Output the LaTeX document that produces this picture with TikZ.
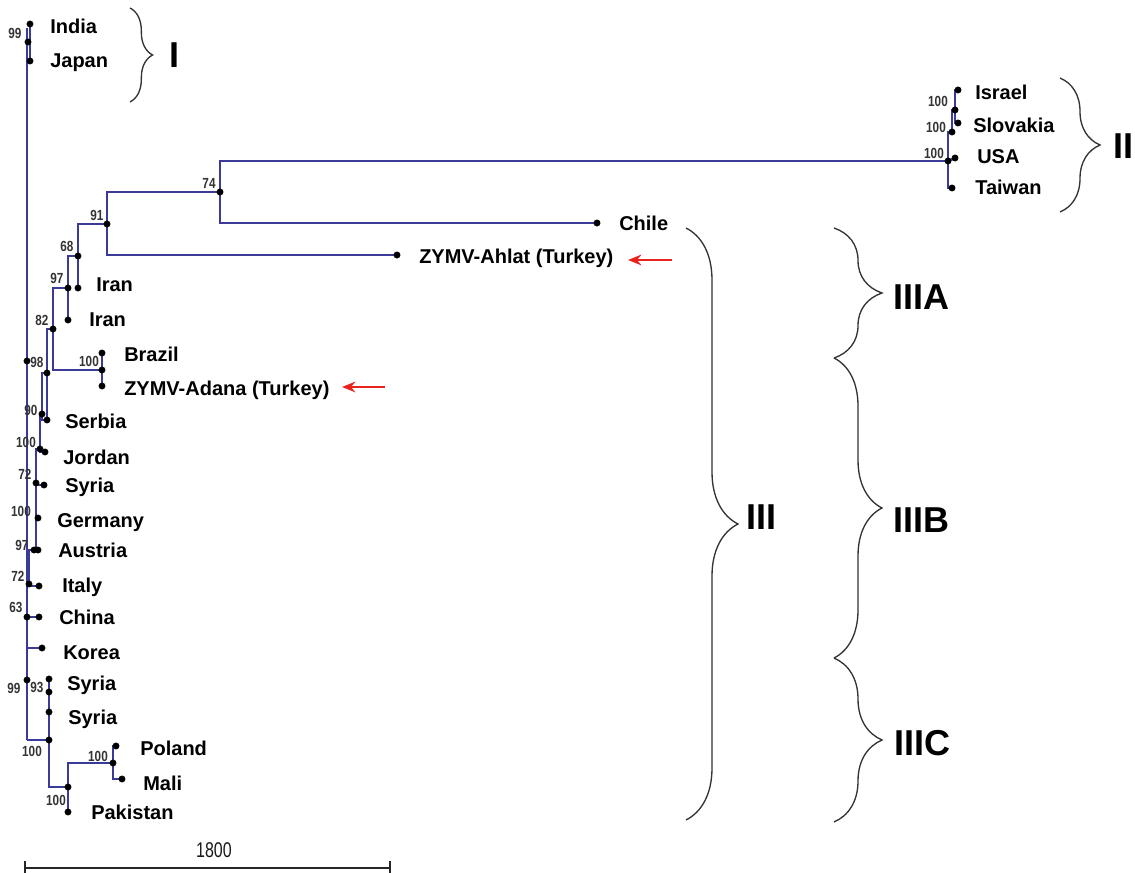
\documentclass[tikz,border=0pt]{standalone}
\usepackage{fontspec}
\setmainfont{Liberation Sans}
\usepackage{graphicx}
\usetikzlibrary{decorations.pathreplacing,arrows.meta}
\definecolor{treeblue}{HTML}{3A3A98}
\definecolor{bracegray}{HTML}{333333}
\definecolor{arrowred}{HTML}{E8231E}
\newcommand{\bsv}[1]{\scalebox{0.8}[1]{#1}}
\begin{document}
\begin{tikzpicture}[x=0.75pt,y=-0.75pt,
  br/.style={draw=treeblue,line width=1.8pt},
  dot/.style={circle,fill=black,inner sep=0pt,minimum size=5.2pt},
  leaf/.style={anchor=base west,font=\fontsize{15}{17}\selectfont\bfseries,inner sep=0pt},
  boot/.style={font=\fontsize{11}{12}\selectfont\bfseries,text=black!80,inner sep=0pt},
  clade/.style={font=\fontsize{27}{30}\selectfont\bfseries,inner sep=0pt},
  cbrace/.style={draw=bracegray,line width=1pt,decorate,decoration={brace,amplitude=#1}},
  redarrow/.style={draw=arrowred,line width=2.1pt,-{Stealth[length=10pt,width=8pt]}},
  scalebar/.style={draw=black!85,line width=1.4pt}]
\useasboundingbox (0,0) rectangle (1135,873);

% ---------- coordinates ----------
\coordinate (sTop) at (27,28);
\coordinate (sBot) at (27,740);
% clade I
\coordinate (cIndia) at (30,24);
\coordinate (cI) at (28,42);
\coordinate (cJapan) at (30,61);
% upper clade
\coordinate (c91) at (107,224);
\coordinate (c74) at (220,192);
\coordinate (cII) at (948,161);
\coordinate (cChile) at (597,223);
\coordinate (cAhlat) at (397,255);
\coordinate (c68) at (78,256);
\coordinate (cIran1) at (78,288);
\coordinate (c97) at (68,288);
\coordinate (cIran2) at (68,320);
\coordinate (c82) at (53,329);
\coordinate (cB) at (102,370);
\coordinate (cBrazil) at (102,353);
\coordinate (cAdana) at (102,386);
\coordinate (c98) at (47,373);
\coordinate (sp98) at (27,361);
% ladder
\coordinate (c90) at (42,414);
\coordinate (cSerbia) at (47,420);
\coordinate (c100b) at (40,449);
\coordinate (cJordan) at (45,452);
\coordinate (c72a) at (36,483);
\coordinate (cSyriaA) at (44,485);
\coordinate (c100c) at (36,517);
\coordinate (cGermany) at (38,518);
\coordinate (c97b) at (34,550);
\coordinate (cAustria) at (38,550);
\coordinate (c72b) at (29,584);
\coordinate (cItaly) at (39,586);
\coordinate (c63) at (27,617);
\coordinate (cChina) at (39,617);
\coordinate (cKorea0) at (27,648);
\coordinate (cKorea) at (42,648);
\coordinate (c99b) at (27,680);
\coordinate (cSyria1) at (49,679);
\coordinate (c93) at (49,692);
\coordinate (cSyria2) at (49,712);
\coordinate (c100d) at (49,740);
\coordinate (c100e) at (68,787);
\coordinate (c100f) at (113,763);
\coordinate (cPoland) at (116,746);
\coordinate (cMali) at (122,779);
\coordinate (cPakistan) at (68,812);
% clade II
\coordinate (cTaiwan) at (952,188);
\coordinate (cUSA) at (955,158);
\coordinate (cS) at (952,132);
\coordinate (cI2) at (955,110);
\coordinate (cIsrael) at (958,90);
\coordinate (cSlovakia) at (958,123);

% ---------- branches ----------
\draw[br] (sTop) -- (sBot);
\draw[br] (cIndia) -- (cJapan);
\draw[br] (c74) -| (c91);
\draw[br] (c74) |- (cII);
\draw[br] (c74) |- (cChile);
\draw[br] (c91) |- (cAhlat);
\draw[br] (c68) |- (c91);
\draw[br] (c68) -- (cIran1);
\draw[br] (c97) |- (c68);
\draw[br] (c97) -- (cIran2);
\draw[br] (c82) |- (c97);
\draw[br] (c82) |- (cB);
\draw[br] (cBrazil) -- (cAdana);
\draw[br] (c98) |- (c82);
\draw[br] (c98) -- (cSerbia);
\draw[br] (c90) |- (c98);
\draw[br] (c90) |- (cSerbia);
\draw[br] (c100b) |- (c90);
\draw[br] (c100b) |- (cJordan);
\draw[br] (c72a) |- (c100b);
\draw[br] (c72a) |- (cSyriaA);
\draw[br] (c72a) -- (c100c);
\draw[br] (c100c) -- (cGermany);
\draw[br] (c100c) |- (c97b);
\draw[br] (c97b) -- (cAustria);
\draw[br] (c72b) |- (c97b);
\draw[br] (c72b) |- (cItaly);
\draw[br] (c63) |- (c72b);
\draw[br] (c63) -- (cChina);
\draw[br] (cKorea0) -- (cKorea);
\draw[br] (cSyria1) -- (c100d);
\draw[br] (sBot) -- (c100d);
\draw[br] (c100d) |- (c100e);
\draw[br] (c100e) |- (c100f);
\draw[br] (c100f) |- (cPoland);
\draw[br] (c100f) |- (cMali);
\draw[br] (c100e) -- (cPakistan);
\draw[br] (cII) |- (cTaiwan);
\draw[br] (cII) -- (cUSA);
\draw[br] (cII) |- (cS);
\draw[br] (cS) |- (cI2);
\draw[br] (cI2) |- (cIsrael);
\draw[br] (cI2) |- (cSlovakia);

% ---------- dots ----------
\foreach \c in {cIndia,cI,cJapan,c91,c74,cChile,cAhlat,c68,cIran1,c97,cIran2,c82,cB,cBrazil,cAdana,sp98,c98,c90,cSerbia,c100b,cJordan,c72a,cSyriaA,cGermany,c97b,cAustria,c72b,cItaly,c63,cChina,cKorea,c99b,cSyria1,c93,cSyria2,c100d,c100e,c100f,cPoland,cMali,cPakistan,cII,cTaiwan,cUSA,cS,cI2,cIsrael,cSlovakia}
  \node[dot] (d-\c) at (\c) {};

% ---------- bootstrap values ----------
\node[boot] (b1) at (15,33) {\bsv{99}};
\node[boot] (b2) at (209,183) {\bsv{74}};
\node[boot] (b3) at (97,215) {\bsv{91}};
\node[boot] (b4) at (67,246) {\bsv{68}};
\node[boot] (b5) at (57,278) {\bsv{97}};
\node[boot] (b6) at (42,320) {\bsv{82}};
\node[boot] (b7) at (89,361) {\bsv{100}};
\node[boot] (b8) at (37,362) {\bsv{98}};
\node[boot] (b9) at (31,410) {\bsv{90}};
\node[boot] (b10) at (26,442) {\bsv{100}};
\node[boot] (b11) at (25,474) {\bsv{72}};
\node[boot] (b12) at (21,511) {\bsv{100}};
\node[boot] (b13) at (22,545) {\bsv{97}};
\node[boot] (b14) at (18,576) {\bsv{72}};
\node[boot] (b15) at (16,607) {\bsv{63}};
\node[boot] (b16) at (14,688) {\bsv{99}};
\node[boot] (b17) at (37,687) {\bsv{93}};
\node[boot] (b18) at (32,751) {\bsv{100}};
\node[boot] (b19) at (56,800) {\bsv{100}};
\node[boot] (b20) at (98,756) {\bsv{100}};
\node[boot] (b21) at (938,101) {\bsv{100}};
\node[boot] (b22) at (936,127) {\bsv{100}};
\node[boot] (b23) at (934,153) {\bsv{100}};

% ---------- leaf labels ----------
\node[leaf] (tIndia) at (50,34) {India};
\node[leaf] (tJapan) at (50,68) {Japan};
\node[leaf] (tChile) at (619,231) {Chile};
\node[leaf] (tAhlat) at (419,264) {ZYMV-Ahlat (Turkey)};
\node[leaf] (tIran1) at (96,292) {Iran};
\node[leaf] (tIran2) at (89,327) {Iran};
\node[leaf] (tBrazil) at (124,362) {Brazil};
\node[leaf] (tAdana) at (124,396) {ZYMV-Adana (Turkey)};
\node[leaf] (tSerbia) at (65,428) {Serbia};
\node[leaf] (tJordan) at (63,464) {Jordan};
\node[leaf] (tSyriaA) at (65,492) {Syria};
\node[leaf] (tGermany) at (57,527) {Germany};
\node[leaf] (tAustria) at (58,557) {Austria};
\node[leaf] (tItaly) at (62,592) {Italy};
\node[leaf] (tChina) at (59,624) {China};
\node[leaf] (tKorea) at (63,659) {Korea};
\node[leaf] (tSyria1) at (67,690) {Syria};
\node[leaf] (tSyria2) at (68,724) {Syria};
\node[leaf] (tPoland) at (140,755) {Poland};
\node[leaf] (tMali) at (143,790) {Mali};
\node[leaf] (tPakistan) at (91,819) {Pakistan};
\node[leaf] (tIsrael) at (975,100) {Israel};
\node[leaf] (tSlovakia) at (973,133) {Slovakia};
\node[leaf] (tUSA) at (977,164) {USA};
\node[leaf] (tTaiwan) at (975,195) {Taiwan};

% ---------- red arrows ----------
\coordinate (aAhlatT) at (672,260);
\coordinate (aAhlatH) at (628,260);
\coordinate (aAdanaT) at (385,387);
\coordinate (aAdanaH) at (342,387);
\draw[redarrow] (aAhlatT) -- (aAhlatH);
\draw[redarrow] (aAdanaT) -- (aAdanaH);

% ---------- braces and clade names ----------
\coordinate (brIa) at (130,8);   \coordinate (brIb) at (130,102);
\coordinate (brIIa) at (1060,78); \coordinate (brIIb) at (1060,212);
\coordinate (brIIIa) at (686,228); \coordinate (brIIIb) at (686,820);
\coordinate (brAa) at (834,228); \coordinate (brAb) at (834,358);
\coordinate (brBb) at (834,658);
\coordinate (brCb) at (834,822);
\draw[cbrace=17pt] (brIa) -- (brIb);
\draw[cbrace=30pt] (brIIa) -- (brIIb);
\draw[cbrace=39pt] (brIIIa) -- (brIIIb);
\draw[cbrace=36pt] (brAa) -- (brAb);
\draw[cbrace=36pt] (brAb) -- (brBb);
\draw[cbrace=36pt] (brBb) -- (brCb);
\node[clade] (kI) at (174,55) {I};
\node[clade] (kII) at (1123,146) {II};
\node[clade] (kIII) at (761,517) {III};
\node[clade] (kIIIA) at (921,297) {IIIA};
\node[clade] (kIIIB) at (921,520) {IIIB};
\node[clade] (kIIIC) at (922,743) {IIIC};

% ---------- scale bar ----------
\coordinate (sbL) at (25,868);
\coordinate (sbR) at (390,868);
\coordinate (sbLt) at (25,861);
\coordinate (sbRt) at (390,861);
\coordinate (sbLb) at (25,873);
\coordinate (sbRb) at (390,873);
\draw[scalebar] (sbL) -- (sbR);
\draw[scalebar] (sbLt) -- (sbLb);
\draw[scalebar] (sbRt) -- (sbRb);
\node[font=\fontsize{16}{18}\selectfont,text=black!90,inner sep=0pt] (sbText) at (214,850) {\scalebox{0.75}[1]{1800}};
\end{tikzpicture}
\end{document}
